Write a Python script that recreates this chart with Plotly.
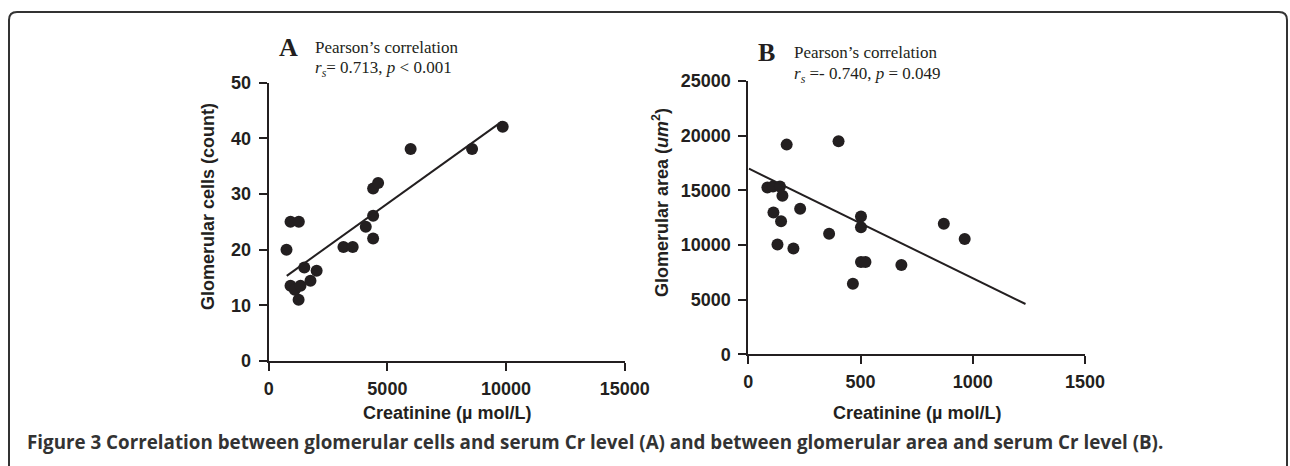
import plotly.graph_objects as go

W, H = 1290, 466

# Panel A data: creatinine (umol/L) vs glomerular cells (count)
a_creatinine = [750, 920, 1270, 920, 1100, 1260, 1340, 1500, 1760, 2020, 3150, 3540,
                4090, 4400, 4400, 4400, 4610, 5980, 8570, 9860]
a_cells = [20, 25, 25, 13.5, 12.8, 11, 13.5, 16.8, 14.4, 16.2, 20.5, 20.5,
           24.1, 26.1, 22.0, 31.0, 32.0, 38.1, 38.1, 42.1]
a_fit_x = [760, 9820]
a_fit_y = [15.3, 43.0]

# Panel B data: creatinine (umol/L) vs glomerular area (um^2)
b_creatinine = [85, 110, 141, 152, 112, 146, 130, 201, 231, 360, 502, 502, 502, 522,
                466, 682, 871, 964, 171, 402]
b_area = [15250, 15340, 15340, 14500, 12970, 12180, 10040, 9670, 13310, 11020,
          12600, 11630, 8450, 8450, 6460, 8170, 11950, 10540, 19180, 19480]
b_fit_x = [3, 1235]
b_fit_y = [16980, 4600]

a_xticks = [0, 5000, 10000, 15000]
a_yticks = [0, 10, 20, 30, 40, 50]
b_xticks = [0, 500, 1000, 1500]
b_yticks = [0, 5000, 10000, 15000, 20000, 25000]

INK = "#231f20"
SANS = "Liberation Sans, Arial, sans-serif"
SERIF = "Liberation Serif, Times New Roman, serif"


def px(x):
    return x / W


def py(y):
    return 1 - y / H


fig = go.Figure()
marker = dict(color=INK, size=12, line=dict(width=0))
fig.add_trace(go.Scatter(x=a_creatinine, y=a_cells, mode="markers", marker=marker,
                         xaxis="x", yaxis="y", showlegend=False, cliponaxis=False))
fig.add_trace(go.Scatter(x=a_fit_x, y=a_fit_y, mode="lines", line=dict(color=INK, width=2),
                         xaxis="x", yaxis="y", showlegend=False))
fig.add_trace(go.Scatter(x=b_creatinine, y=b_area, mode="markers", marker=marker,
                         xaxis="x2", yaxis="y2", showlegend=False, cliponaxis=False))
fig.add_trace(go.Scatter(x=b_fit_x, y=b_fit_y, mode="lines", line=dict(color=INK, width=2),
                         xaxis="x2", yaxis="y2", showlegend=False))

axis_common = dict(showgrid=False, zeroline=False, showline=True, linecolor=INK, linewidth=2,
                   ticks="outside", ticklen=8, tickwidth=2, tickcolor=INK, tickformat="d",
                   automargin=False,
                   tickfont=dict(family=SANS, size=18, color=INK, weight="bold"))

fig.update_layout(
    template="none",
    width=W, height=H, autosize=False,
    margin=dict(l=0, r=0, t=0, b=0, pad=0, autoexpand=False),
    paper_bgcolor="white", plot_bgcolor="white",
    hovermode=False,
    xaxis=dict(domain=[px(268.7), px(624.7)], range=[0, 15000], tickvals=a_xticks,
               anchor="y", ticklabelstandoff=2, **axis_common),
    yaxis=dict(domain=[py(361), py(82.7)], range=[0, 50], tickvals=a_yticks,
               anchor="x", ticklabelstandoff=4, **axis_common),
    xaxis2=dict(domain=[px(748.3), px(1085)], range=[0, 1500], tickvals=b_xticks,
                anchor="y2", ticklabelstandoff=2, **axis_common),
    yaxis2=dict(domain=[py(354.3), py(81)], range=[0, 25000], tickvals=b_yticks,
                anchor="x2", ticklabelstandoff=4, **axis_common),
)

ann = []


def add_text(text, x, y, size, family, xanchor="center", yanchor="middle", angle=0,
             weight="normal", color=INK):
    ann.append(dict(text=text, x=px(x), y=py(y), xref="paper", yref="paper",
                    xanchor=xanchor, yanchor=yanchor, showarrow=False, textangle=angle,
                    font=dict(family=family, size=size, color=color, weight=weight)))


add_text("A", 288, 47, 26, SERIF, weight="bold")
add_text("Pearson’s correlation", 313, 47, 17, SERIF, xanchor="left")
add_text("<i>r<sub>s</sub></i>= 0.713, <i>p</i> &lt; 0.001", 313, 69, 17, SERIF, xanchor="left")
add_text("B", 766, 53, 26, SERIF, weight="bold")
add_text("Pearson’s correlation", 792, 53, 17, SERIF, xanchor="left")
add_text("<i>r<sub>s</sub></i> =- 0.740, <i>p</i> = 0.049", 792, 75, 17, SERIF, xanchor="left")

add_text("Glomerular cells (count)", 208, 207, 18, SANS, angle=-90, weight="bold")
add_text("Glomerular area (<i>um</i><sup>2</sup>)", 660, 203, 18, SANS, angle=-90, weight="bold")
add_text("Creatinine (µ mol/L)", 447, 413, 18, SANS, weight="bold")
add_text("Creatinine (µ mol/L)", 917, 413, 18, SANS, weight="bold")

add_text("Figure 3 Correlation between glomerular cells and serum Cr level (A) and between "
         "glomerular area and serum Cr level (B).", 25, 442, 18.8, "Open Sans, sans-serif",
         xanchor="left", weight="bold", color="#333333")

fig.update_layout(annotations=ann)

# rounded border of the figure panel
x0, x1, y0, y1, r = 9, 1287, 12, 480, 8
path = (f"M {px(x0)},{py(y1)} L {px(x0)},{py(y0 + r)} "
        f"Q {px(x0)},{py(y0)} {px(x0 + r)},{py(y0)} "
        f"L {px(x1 - r)},{py(y0)} Q {px(x1)},{py(y0)} {px(x1)},{py(y0 + r)} "
        f"L {px(x1)},{py(y1)}")
fig.add_shape(type="path", path=path, xref="paper", yref="paper",
              line=dict(color="#333333", width=2))

fig.write_html("out.html", config={"displayModeBar": False},
               post_script="document.body.style.margin='0';"
                           "document.body.style.overflow='hidden';")
